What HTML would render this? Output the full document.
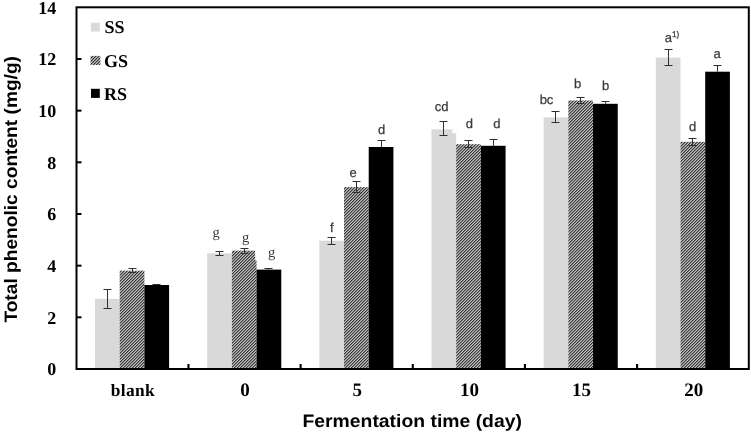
<!DOCTYPE html>
<html lang="en">
<head>
<meta charset="utf-8">
<title>Total phenolic content</title>
<style>
html,body{margin:0;padding:0;background:#fff;}
body{width:751px;height:432px;overflow:hidden;}
svg{display:block;text-rendering:geometricPrecision;}
.tick{font-family:"Liberation Serif",serif;font-weight:bold;font-size:18px;fill:#000;}
.xt{font-size:19px;}
.ttl{font-family:"Liberation Sans",sans-serif;font-weight:bold;font-size:18px;fill:#000;}
.xt{font-size:19px;}
.lab{font-family:"Liberation Sans",sans-serif;font-size:13px;fill:#383838;stroke:#383838;stroke-width:0.25px;}
.labs{font-family:"Liberation Serif",serif;font-size:14.5px;fill:#383838;}
.sup{font-size:8.2px;}
</style>
</head>
<body>
<svg width="751" height="432" viewBox="0 0 751 432">
<defs>
<pattern id="hatch" x="0" y="0" width="3" height="3" patternUnits="userSpaceOnUse">
<rect x="0" y="0" width="3" height="3" fill="#bebebe"/>
<rect x="1" y="0" width="1" height="1" fill="#363636"/>
<rect x="0" y="1" width="1" height="1" fill="#363636"/>
<rect x="2" y="2" width="1" height="1" fill="#363636"/>
<rect x="2" y="0" width="1" height="1" fill="#868686"/>
<rect x="1" y="1" width="1" height="1" fill="#868686"/>
<rect x="0" y="2" width="1" height="1" fill="#868686"/>
</pattern>

</defs>
<rect x="0" y="0" width="751" height="432" fill="#fff"/>

<rect x="95.00" y="298.90" width="24.70" height="70.10" fill="#d9d9d9"/>
<rect x="119.70" y="270.60" width="24.70" height="98.40" fill="url(#hatch)"/>
<rect x="144.40" y="285.00" width="24.70" height="84.00" fill="#000"/>
<rect x="207.16" y="253.30" width="24.70" height="115.70" fill="#d9d9d9"/>
<rect x="231.86" y="250.60" width="24.70" height="118.40" fill="url(#hatch)"/>
<rect x="256.56" y="269.60" width="24.70" height="99.40" fill="#000"/>
<rect x="319.32" y="240.70" width="24.70" height="128.30" fill="#d9d9d9"/>
<rect x="344.02" y="187.10" width="24.70" height="181.90" fill="url(#hatch)"/>
<rect x="368.72" y="147.00" width="24.70" height="222.00" fill="#000"/>
<rect x="431.48" y="129.30" width="24.70" height="239.70" fill="#d9d9d9"/>
<rect x="456.18" y="144.20" width="24.70" height="224.80" fill="url(#hatch)"/>
<rect x="480.88" y="145.80" width="24.70" height="223.20" fill="#000"/>
<rect x="543.64" y="117.40" width="24.70" height="251.60" fill="#d9d9d9"/>
<rect x="568.34" y="100.50" width="24.70" height="268.50" fill="url(#hatch)"/>
<rect x="593.04" y="103.80" width="24.70" height="265.20" fill="#000"/>
<rect x="655.80" y="57.50" width="24.70" height="311.50" fill="#d9d9d9"/>
<rect x="680.50" y="141.80" width="24.70" height="227.20" fill="url(#hatch)"/>
<rect x="705.20" y="71.70" width="24.70" height="297.30" fill="#000"/>
<rect x="255.1" y="249" width="2.3" height="11.2" fill="#fff"/>
<rect x="452.3" y="128" width="4.2" height="5.2" fill="#fff"/>
<path d="M107.5 289.5V308.5M103.5 289.5H111.5M103.5 308.5H111.5" stroke="#303030" stroke-width="1" fill="none"/>
<path d="M132.5 268.5V272.5M128.5 268.5H136.5M128.5 272.5H136.5" stroke="#303030" stroke-width="1" fill="none"/>
<path d="M156.5 284.5V285.00M152.5 284.5H160.5" stroke="#303030" stroke-width="1" fill="none"/>
<path d="M219.5 251.5V255.5M215.5 251.5H223.5M215.5 255.5H223.5" stroke="#303030" stroke-width="1" fill="none"/>
<path d="M244.5 248.5V253.5M240.5 248.5H248.5M240.5 253.5H248.5" stroke="#303030" stroke-width="1" fill="none"/>
<path d="M268.5 268.5V269.60M264.5 268.5H272.5" stroke="#303030" stroke-width="1" fill="none"/>
<path d="M331.5 237.5V244.5M327.5 237.5H335.5M327.5 244.5H335.5" stroke="#303030" stroke-width="1" fill="none"/>
<path d="M356.5 181.5V192.5M352.5 181.5H360.5M352.5 192.5H360.5" stroke="#303030" stroke-width="1" fill="none"/>
<path d="M381.5 140.5V147.00M377.5 140.5H385.5" stroke="#303030" stroke-width="1" fill="none"/>
<path d="M443.5 121.5V135.5M439.5 121.5H447.5M439.5 135.5H447.5" stroke="#303030" stroke-width="1" fill="none"/>
<path d="M468.5 140.5V147.5M464.5 140.5H472.5M464.5 147.5H472.5" stroke="#303030" stroke-width="1" fill="none"/>
<path d="M493.5 139.5V145.80M489.5 139.5H497.5" stroke="#303030" stroke-width="1" fill="none"/>
<path d="M555.5 111.5V122.5M551.5 111.5H559.5M551.5 122.5H559.5" stroke="#303030" stroke-width="1" fill="none"/>
<path d="M580.5 97.5V103.5M576.5 97.5H584.5M576.5 103.5H584.5" stroke="#303030" stroke-width="1" fill="none"/>
<path d="M605.5 101.5V103.80M601.5 101.5H609.5" stroke="#303030" stroke-width="1" fill="none"/>
<path d="M668.5 49.5V65.5M664.5 49.5H672.5M664.5 65.5H672.5" stroke="#303030" stroke-width="1" fill="none"/>
<path d="M692.5 138.5V145.5M688.5 138.5H696.5M688.5 145.5H696.5" stroke="#303030" stroke-width="1" fill="none"/>
<path d="M717.5 65.5V71.70M713.5 65.5H721.5" stroke="#303030" stroke-width="1" fill="none"/>
<rect x="76.5" y="7.3" width="672.3" height="361.7" fill="none" stroke="#000" stroke-width="2"/>
<line x1="76.5" y1="317.33" x2="81.5" y2="317.33" stroke="#000" stroke-width="2"/>
<line x1="76.5" y1="265.66" x2="81.5" y2="265.66" stroke="#000" stroke-width="2"/>
<line x1="76.5" y1="213.99" x2="81.5" y2="213.99" stroke="#000" stroke-width="2"/>
<line x1="76.5" y1="162.31" x2="81.5" y2="162.31" stroke="#000" stroke-width="2"/>
<line x1="76.5" y1="110.64" x2="81.5" y2="110.64" stroke="#000" stroke-width="2"/>
<line x1="76.5" y1="58.97" x2="81.5" y2="58.97" stroke="#000" stroke-width="2"/>
<text class="tick" x="56.3" y="375.40" text-anchor="end">0</text>
<text class="tick" x="56.3" y="323.73" text-anchor="end">2</text>
<text class="tick" x="56.3" y="272.06" text-anchor="end">4</text>
<text class="tick" x="56.3" y="220.39" text-anchor="end">6</text>
<text class="tick" x="56.3" y="168.71" text-anchor="end">8</text>
<text class="tick" x="56.3" y="117.04" text-anchor="end">10</text>
<text class="tick" x="56.3" y="65.37" text-anchor="end">12</text>
<text class="tick" x="56.3" y="13.70" text-anchor="end">14</text>
<line x1="188.46" y1="369.0" x2="188.46" y2="364.0" stroke="#000" stroke-width="2.1"/>
<line x1="300.62" y1="369.0" x2="300.62" y2="364.0" stroke="#000" stroke-width="2.1"/>
<line x1="412.78" y1="369.0" x2="412.78" y2="364.0" stroke="#000" stroke-width="2.1"/>
<line x1="524.94" y1="369.0" x2="524.94" y2="364.0" stroke="#000" stroke-width="2.1"/>
<line x1="637.10" y1="369.0" x2="637.10" y2="364.0" stroke="#000" stroke-width="2.1"/>
<text class="tick" x="132.9" y="395.8" text-anchor="middle" style="font-size:17.4px;letter-spacing:0.35px">blank</text>
<text class="tick xt" x="245.11" y="396.2" text-anchor="middle">0</text>
<text class="tick xt" x="357.27" y="396.2" text-anchor="middle">5</text>
<text class="tick xt" x="469.43" y="396.2" text-anchor="middle">10</text>
<text class="tick xt" x="581.59" y="396.2" text-anchor="middle">15</text>
<text class="tick xt" x="693.75" y="396.2" text-anchor="middle">20</text>
<rect x="91" y="22.7" width="8.8" height="8.8" fill="#d9d9d9"/>
<rect x="90.50" y="55.90" width="9.90" height="9.10" fill="url(#hatch)"/>
<rect x="91" y="88.8" width="8.8" height="9.1" fill="#000"/>
<text class="tick" x="104.5" y="32.7">SS</text>
<text class="tick" x="104.1" y="66.5">GS</text>
<text class="tick" x="104" y="100">RS</text>
<text class="labs" x="216.1" y="237.0" text-anchor="middle">g</text>
<text class="labs" x="245.7" y="241.5" text-anchor="middle">g</text>
<text class="labs" x="271.7" y="257.0" text-anchor="middle">g</text>
<text class="lab" x="331.8" y="231.9" text-anchor="middle">f</text>
<text class="lab" x="353.1" y="176.8" text-anchor="middle">e</text>
<text class="lab" x="381.7" y="134.0" text-anchor="middle">d</text>
<text class="lab" x="441.7" y="110.7" text-anchor="middle">cd</text>
<text class="lab" x="469.3" y="128.0" text-anchor="middle">d</text>
<text class="lab" x="496.8" y="128.0" text-anchor="middle">d</text>
<text class="lab" x="546.5" y="104.4" text-anchor="middle">bc</text>
<text class="lab" x="577.7" y="88.0" text-anchor="middle">b</text>
<text class="lab" x="605.6" y="90.3" text-anchor="middle">b</text>
<text class="lab" x="664.7" y="41.9">a<tspan class="sup" dy="-4.6">1)</tspan></text>
<text class="lab" x="692.7" y="131.4" text-anchor="middle">d</text>
<text class="lab" x="717.0" y="57.5" text-anchor="middle">a</text>
<text class="ttl" x="412.2" y="426.9" text-anchor="middle" textLength="219.5" lengthAdjust="spacingAndGlyphs">Fermentation time (day)</text>
<text class="ttl" transform="translate(16.7 189.3) rotate(-90)" text-anchor="middle" textLength="266.6" lengthAdjust="spacingAndGlyphs">Total phenolic content (mg/g)</text>
</svg>
</body>
</html>
